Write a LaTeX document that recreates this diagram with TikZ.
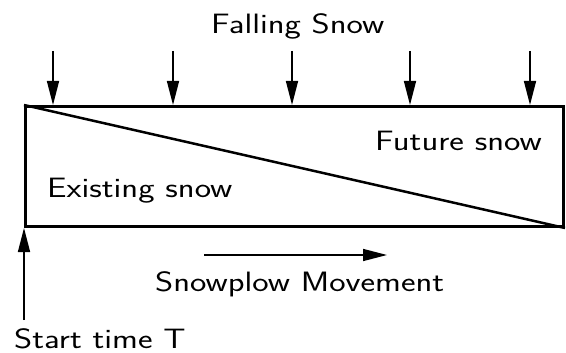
\documentclass[tikz,border=0pt]{standalone}
\usepackage{graphicx}
\usetikzlibrary{arrows.meta}
\newcommand{\wide}[1]{\scalebox{1.24}[1]{#1}}
\begin{document}
\begin{tikzpicture}[x=1pt,y=-1pt,
  lbl/.style={inner sep=0pt,anchor=base west,font=\sffamily\fontsize{28}{34}\selectfont},
  fall/.style={line width=1.5pt,-{Triangle[length=24pt,width=12pt]}},
  move/.style={line width=1.5pt,-{Triangle[length=24pt,width=12pt]}}]
\useasboundingbox (0,0) rectangle (566,353);
\node[draw,line width=3pt,minimum width=538pt,minimum height=120pt,inner sep=0pt,anchor=north west] (box) at (24,105) {};
\draw[line width=2.5pt] (box.north west) -- (box.south east);
\node[lbl] (fs) at (211,34) {\wide{Falling Snow}};
\foreach \i/\x in {1/53,2/173,3/292,4/410,5/530}{
  \coordinate (t\i) at (\x,51);
  \coordinate (b\i) at (\x,105);
  \draw[fall] (t\i) -- (b\i);
}
\node[lbl] (fut) at (375,150) {\wide{Future snow}};
\node[lbl] (ex) at (47,197) {\wide{Existing snow}};
\coordinate (m1) at (204,255);
\coordinate (m2) at (387,255);
\draw[move] (m1) -- (m2);
\node[lbl] (sp) at (155,291) {\wide{Snowplow Movement}};
\coordinate (s1) at (24,320);
\draw[move] (s1) -- (box.south west);
\node[lbl] (st) at (14,348) {\wide{Start time T}};
\end{tikzpicture}
\end{document}
